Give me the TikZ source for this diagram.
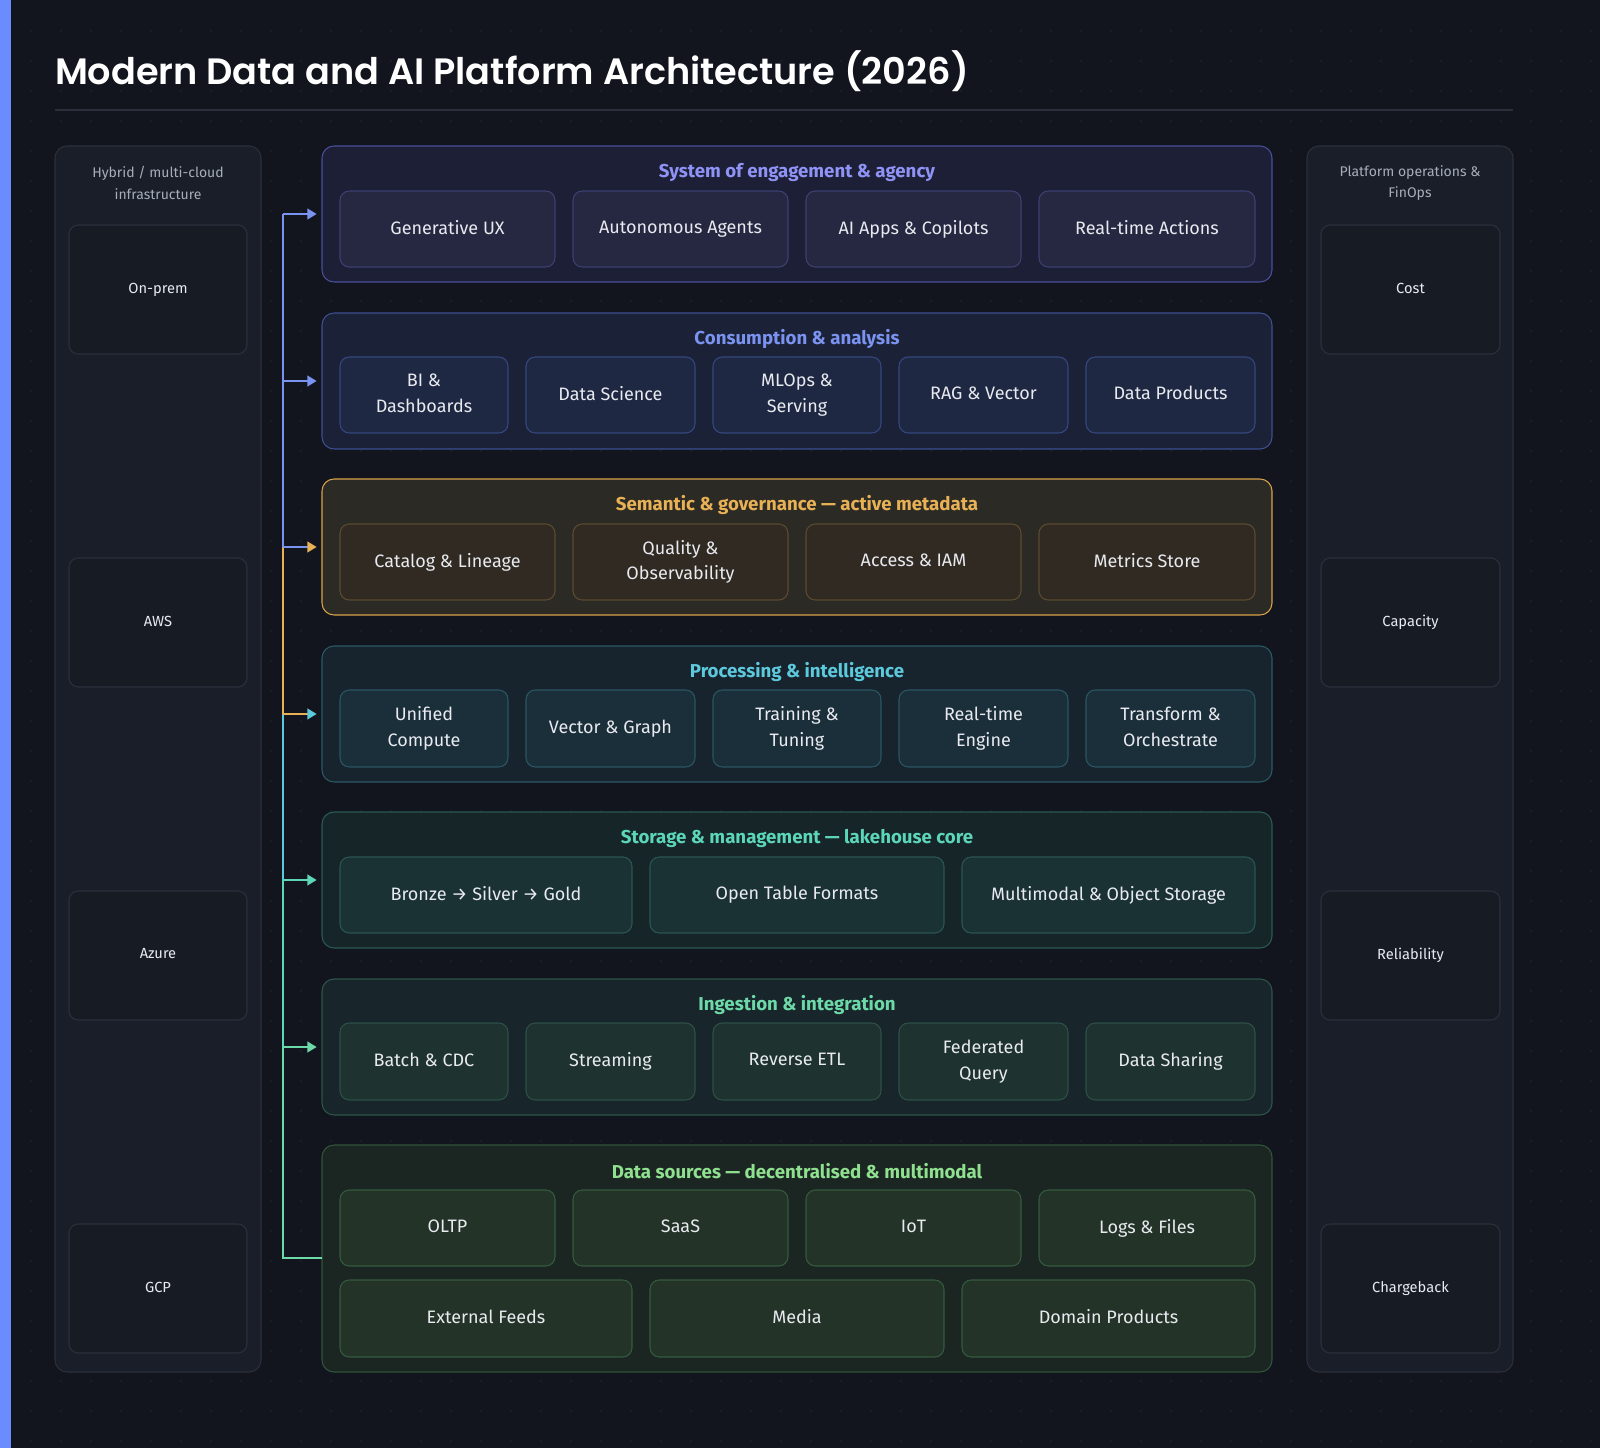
\documentclass[tikz,border=0pt]{standalone}
\usepackage{fontspec}
\setmainfont{Fira Sans}
\newfontfamily\titlefont{Poppins SemiBold}
\usetikzlibrary{arrows.meta}
\definecolor{bg}{HTML}{12151D}
\definecolor{dot}{HTML}{22262F}
\definecolor{bar}{HTML}{6B8CFF}
\definecolor{panel}{HTML}{1A1E28}
\definecolor{panelb}{HTML}{2A2F3B}
\definecolor{sbox}{HTML}{171B23}
\definecolor{txt}{HTML}{E8EAF0}
\definecolor{gry}{HTML}{A7ADBA}
\definecolor{cA}{HTML}{8F93F5}\definecolor{fA}{HTML}{1D1F36}\definecolor{bA}{HTML}{4A4F9A}\definecolor{xA}{HTML}{252840}\definecolor{yA}{HTML}{3C4070}
\definecolor{cB}{HTML}{7B93F0}\definecolor{fB}{HTML}{1B2136}\definecolor{bB}{HTML}{3E4F92}\definecolor{xB}{HTML}{1E2842}\definecolor{yB}{HTML}{34477E}
\definecolor{cC}{HTML}{E8B155}\definecolor{fC}{HTML}{2C2A25}\definecolor{bC}{HTML}{D9A24A}\definecolor{xC}{HTML}{302A22}\definecolor{yC}{HTML}{5A4A30}
\definecolor{cD}{HTML}{5CC9DC}\definecolor{fD}{HTML}{17232D}\definecolor{bD}{HTML}{2A5A66}\definecolor{xD}{HTML}{1B2F3A}\definecolor{yD}{HTML}{2A5563}
\definecolor{cE}{HTML}{5CD6B8}\definecolor{fE}{HTML}{162528}\definecolor{bE}{HTML}{2A5A55}\definecolor{xE}{HTML}{1A3234}\definecolor{yE}{HTML}{2A5550}
\definecolor{cF}{HTML}{6DD9A8}\definecolor{fF}{HTML}{18252A}\definecolor{bF}{HTML}{2C5548}\definecolor{xF}{HTML}{1E3230}\definecolor{yF}{HTML}{2C5046}
\definecolor{cG}{HTML}{8FE08F}\definecolor{fG}{HTML}{1B2622}\definecolor{bG}{HTML}{30553A}\definecolor{xG}{HTML}{233328}\definecolor{yG}{HTML}{345A3E}
\newcommand\mybox[7]{\node[#6,anchor=north west,minimum width={(#4-#2)*0.75pt},minimum height={(#5-#3)*0.75pt}] (#1) at (#2,#3) {\vphantom{Ay}#7\vphantom{Ay}};}
\begin{document}
\begin{tikzpicture}[x=0.75pt,y=-0.75pt,
 every node/.style={inner sep=0pt,outer sep=0pt,align=center},
 panel/.style={draw=panelb,fill=panel,rounded corners=9pt,line width=0.8pt},
 side/.style={draw=panelb,fill=sbox,rounded corners=7pt,line width=0.8pt,text=txt,font=\fontsize{11}{13}\selectfont},
 layer/.style={draw=b#1,fill=f#1,rounded corners=9pt,line width=0.8pt},
 item/.style={draw=y#1,fill=x#1,rounded corners=7pt,line width=0.8pt,text=txt,font=\fontsize{13.5}{19}\selectfont},
 ltitle/.style={text=c#1,font=\fontsize{14}{16}\selectfont\bfseries},
 conn/.style={line width=1.6pt,draw=#1},
 arr/.style={-{Triangle[length=7pt,width=8pt,fill=#1,color=#1]}}]
\fill[bg] (0,0) rectangle (1600,1448);
\useasboundingbox (0,0) rectangle (1600,1448);
\foreach \i in {1,...,53}{\foreach \j in {1,...,48}{\fill[dot] (\i*30+1,\j*30+1) circle (0.9);}}
\fill[bar] (0,0) rectangle (11,1448);
\node[anchor=base west,text=white,font=\titlefont\fontsize{27.5}{32}\selectfont] (title) at (55,85) {Modern Data and AI Platform Architecture (2026)};
\draw[panelb,line width=0.8pt] (55,110) -- (1513,110);
% side panels
\mybox{lp}{55}{146}{261}{1372}{panel}{}
\mybox{rp}{1307}{146}{1513}{1372}{panel}{}
\node[text=gry,font=\fontsize{10.5}{16}\selectfont] (lpt) at (158,183) {Hybrid / multi-cloud\\infrastructure};
\node[text=gry,font=\fontsize{10.5}{16}\selectfont] (rpt) at (1410,183) {Platform operations \&\\FinOps};
\mybox{s1}{69}{225}{247}{354}{side}{On-prem}
\mybox{s2}{69}{558}{247}{687}{side}{AWS}
\mybox{s3}{69}{891}{247}{1020}{side}{Azure}
\mybox{s4}{69}{1224}{247}{1353}{side}{GCP}
\mybox{r1}{1321}{225}{1500}{354}{side}{Cost}
\mybox{r2}{1321}{558}{1500}{687}{side}{Capacity}
\mybox{r3}{1321}{891}{1500}{1020}{side}{Reliability}
\mybox{r4}{1321}{1224}{1500}{1353}{side}{Chargeback}
% layers
\mybox{L1}{322}{146}{1272}{282}{layer=A}{}
\mybox{L2}{322}{313}{1272}{449}{layer=B}{}
\mybox{L3}{322}{479}{1272}{615}{layer=C}{}
\mybox{L4}{322}{646}{1272}{782}{layer=D}{}
\mybox{L5}{322}{812}{1272}{948}{layer=E}{}
\mybox{L6}{322}{979}{1272}{1115}{layer=F}{}
\mybox{L7}{322}{1145}{1272}{1372}{layer=G}{}
\node[ltitle=A] (t1) at (797,172) {System of engagement \& agency};
\node[ltitle=B] (t2) at (797,339) {Consumption \& analysis};
\node[ltitle=C] (t3) at (797,505) {Semantic \& governance — active metadata};
\node[ltitle=D] (t4) at (797,672) {Processing \& intelligence};
\node[ltitle=E] (t5) at (797,838) {Storage \& management — lakehouse core};
\node[ltitle=F] (t6) at (797,1005) {Ingestion \& integration};
\node[ltitle=G] (t7) at (797,1171) {Data sources — decentralised \& multimodal};
% L1
\mybox{a1}{340}{191}{555}{267}{item=A}{Generative UX}
\mybox{a2}{573}{191}{788}{267}{item=A}{Autonomous Agents}
\mybox{a3}{806}{191}{1021}{267}{item=A}{AI Apps \& Copilots}
\mybox{a4}{1039}{191}{1255}{267}{item=A}{Real-time Actions}
% L2
\mybox{b1}{340}{357}{508}{433}{item=B}{BI \&\\Dashboards}
\mybox{b2}{526}{357}{695}{433}{item=B}{Data Science}
\mybox{b3}{713}{357}{881}{433}{item=B}{MLOps \&\\Serving}
\mybox{b4}{899}{357}{1068}{433}{item=B}{RAG \& Vector}
\mybox{b5}{1086}{357}{1255}{433}{item=B}{Data Products}
% L3
\mybox{c1}{340}{524}{555}{600}{item=C}{Catalog \& Lineage}
\mybox{c2}{573}{524}{788}{600}{item=C}{Quality \&\\Observability}
\mybox{c3}{806}{524}{1021}{600}{item=C}{Access \& IAM}
\mybox{c4}{1039}{524}{1255}{600}{item=C}{Metrics Store}
% L4
\mybox{d1}{340}{690}{508}{767}{item=D}{Unified\\Compute}
\mybox{d2}{526}{690}{695}{767}{item=D}{Vector \& Graph}
\mybox{d3}{713}{690}{881}{767}{item=D}{Training \&\\Tuning}
\mybox{d4}{899}{690}{1068}{767}{item=D}{Real-time\\Engine}
\mybox{d5}{1086}{690}{1255}{767}{item=D}{Transform \&\\Orchestrate}
% L5
\mybox{e1}{340}{857}{632}{933}{item=E}{Bronze → Silver → Gold}
\mybox{e2}{650}{857}{944}{933}{item=E}{Open Table Formats}
\mybox{e3}{962}{857}{1255}{933}{item=E}{Multimodal \& Object Storage}
% L6
\mybox{f1}{340}{1023}{508}{1100}{item=F}{Batch \& CDC}
\mybox{f2}{526}{1023}{695}{1100}{item=F}{Streaming}
\mybox{f3}{713}{1023}{881}{1100}{item=F}{Reverse ETL}
\mybox{f4}{899}{1023}{1068}{1100}{item=F}{Federated\\Query}
\mybox{f5}{1086}{1023}{1255}{1100}{item=F}{Data Sharing}
% L7
\mybox{g1}{340}{1190}{555}{1266}{item=G}{OLTP}
\mybox{g2}{573}{1190}{788}{1266}{item=G}{SaaS}
\mybox{g3}{806}{1190}{1021}{1266}{item=G}{IoT}
\mybox{g4}{1039}{1190}{1255}{1266}{item=G}{Logs \& Files}
\mybox{g5}{340}{1280}{632}{1357}{item=G}{External Feeds}
\mybox{g6}{650}{1280}{944}{1357}{item=G}{Media}
\mybox{g7}{962}{1280}{1255}{1357}{item=G}{Domain Products}
% connectors
\coordinate (k0) at (283,1258);
\coordinate (k6) at (283,1047);
\coordinate (k5) at (283,880);
\coordinate (k4) at (283,714);
\coordinate (k3) at (283,547);
\coordinate (k2) at (283,381);
\coordinate (k1) at (283,214);
\draw[conn=cF] (L7.west |- k0) -- (k0) -- (k6);
\draw[conn=cE] (k6) -- (k5);
\draw[conn=cD] (k5) -- (k4);
\draw[conn=cC] (k4) -- (k3);
\draw[conn=cB] (k3) -- (k2) -- (k1);
\draw[conn=cF,arr=cF] (k6) -- ([xshift=-4pt]L6.west |- k6);
\draw[conn=cE,arr=cE] (k5) -- ([xshift=-4pt]L5.west |- k5);
\draw[conn=cC,arr=cD] (k4) -- ([xshift=-4pt]L4.west |- k4);
\draw[conn=cB,arr=cC] (k3) -- ([xshift=-4pt]L3.west |- k3);
\draw[conn=cB,arr=cB] (k2) -- ([xshift=-4pt]L2.west |- k2);
\draw[conn=cB,arr=cB] (k1) -- ([xshift=-4pt]L1.west |- k1);
\end{tikzpicture}
\end{document}
